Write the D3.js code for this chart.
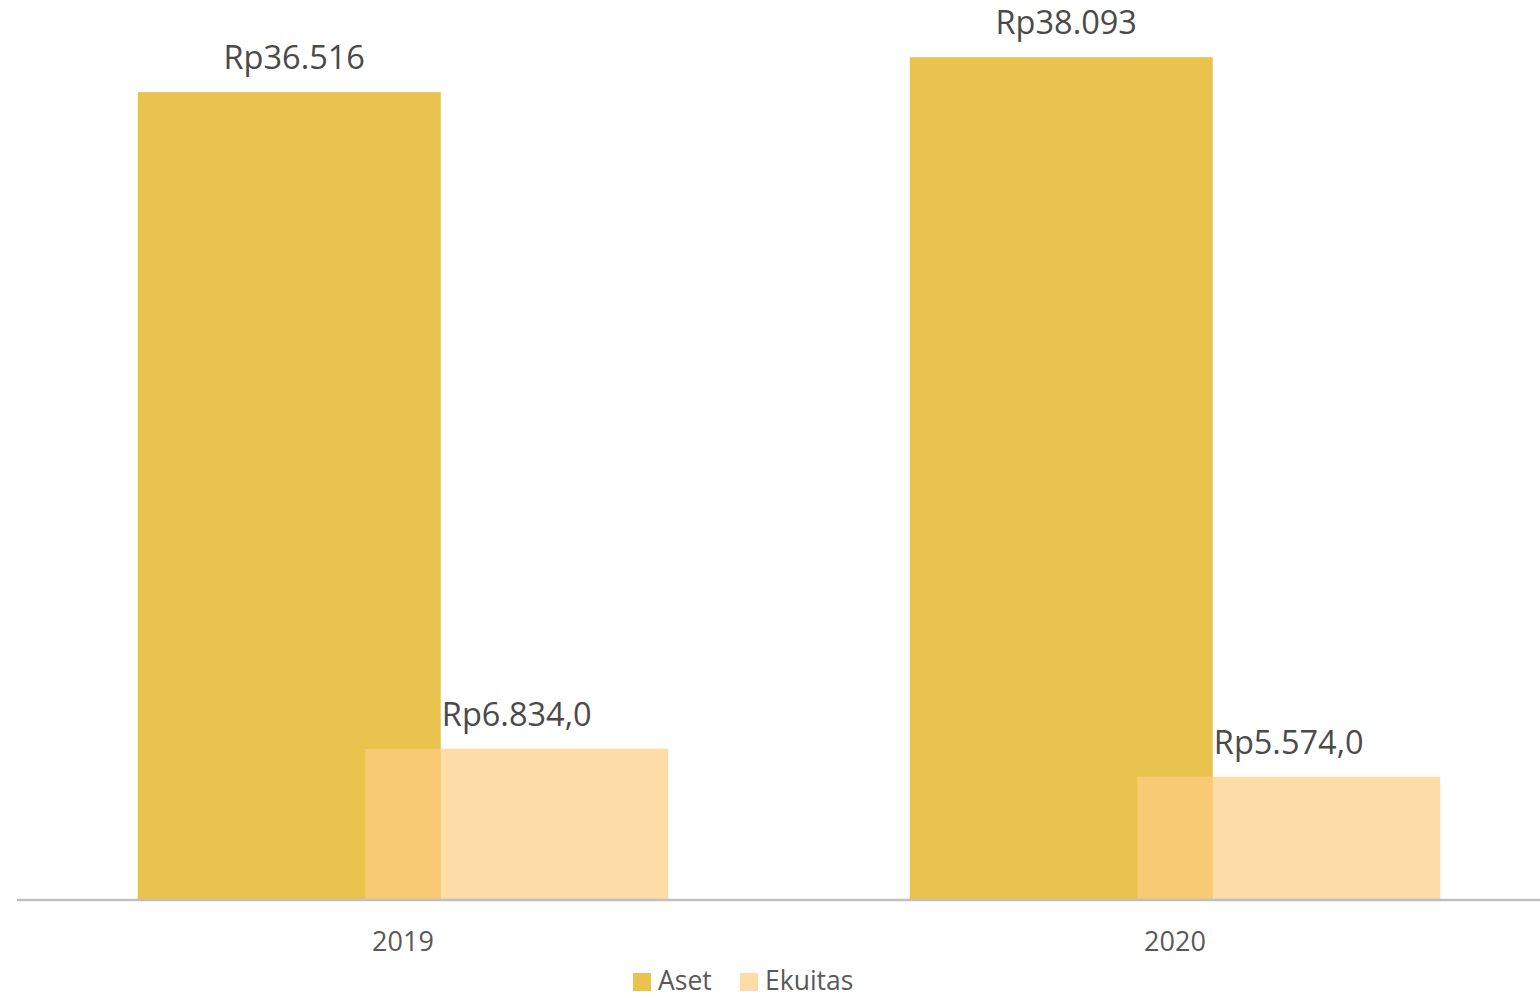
<!DOCTYPE html>
<html>
<head>
<meta charset="utf-8">
<script src="https://cdn.jsdelivr.net/npm/d3@7"></script>
<style>
  html, body { margin: 0; padding: 0; background: #fff; }
  svg { display: block; font-family: "Open Sans", sans-serif; }
</style>
</head>
<body>
<svg id="chart" width="1540" height="998"></svg>
<script>
const categories = ["2019", "2020"];
const seriesNames = ["Aset", "Ekuitas"];
const asetValues = [36516, 38093];
const ekuitasValues = [6834.0, 5574.0];
const asetLabels = ["Rp36.516", "Rp38.093"];
const ekuitasLabels = ["Rp6.834,0", "Rp5.574,0"];
const yTicks = [0, 10000, 20000, 30000, 40000];

const svg = d3.select("#chart");
const plot = { left: 17, right: 1561, top: 15, bottom: 900 };

const x = d3.scaleBand().domain(categories).range([plot.left, plot.right]).paddingInner(0).paddingOuter(0);
const y = d3.scaleLinear().domain([0, d3.max(yTicks)]).range([plot.bottom, plot.top]);

const barW = 303;
const seriesOffset = 227.5;
const groupW = barW + seriesOffset;

const colors = { Aset: "#E9C34E", Ekuitas: "#FCCD83" };

function barX(cat, si) {
  const c = x(cat) + x.bandwidth() / 2;
  return c - groupW / 2 + si * seriesOffset;
}

const series = [
  { name: "Aset", values: asetValues, labels: asetLabels, opacity: 1 },
  { name: "Ekuitas", values: ekuitasValues, labels: ekuitasLabels, opacity: 0.7 }
];

series.forEach((s, si) => {
  const g = svg.append("g");
  g.selectAll("rect").data(categories).join("rect")
    .attr("x", (d) => barX(d, si))
    .attr("y", (d, i) => y(s.values[i]))
    .attr("width", barW)
    .attr("height", (d, i) => y(0) - y(s.values[i]))
    .attr("fill", colors[s.name])
    .attr("fill-opacity", s.opacity);
});

svg.append("line")
  .attr("x1", plot.left).attr("x2", 1540)
  .attr("y1", y(0)).attr("y2", y(0))
  .attr("stroke", "#BFBFBF").attr("stroke-width", 2.5);

series.forEach((s, si) => {
  svg.append("g").selectAll("text").data(categories).join("text")
    .attr("x", (d) => barX(d, si) + barW / 2 + (si === 0 ? 5 : 0))
    .attr("y", (d, i) => y(s.values[i]) - 23)
    .attr("text-anchor", "middle")
    .attr("font-size", 32.5)
    .attr("fill", "#4a4a4a")
    .text((d, i) => s.labels[i]);
});

svg.append("g").selectAll("text").data(categories).join("text")
  .attr("x", (d) => x(d) + x.bandwidth() / 2)
  .attr("y", 951)
  .attr("text-anchor", "middle")
  .attr("font-size", 27)
  .attr("fill", "#595959")
  .text((d) => d);

const legendItems = [
  { name: "Aset", x: 633 },
  { name: "Ekuitas", x: 740 }
];
const lg = svg.append("g");
legendItems.forEach((it) => {
  lg.append("rect").attr("x", it.x).attr("y", 973).attr("width", 18).attr("height", 18)
    .attr("fill", colors[it.name]).attr("fill-opacity", it.name === "Ekuitas" ? 0.7 : 1);
  lg.append("text").attr("x", it.x + 25).attr("y", 990)
    .attr("font-size", 26.5).attr("fill", "#595959").text(it.name);
});
</script>
</body>
</html>
